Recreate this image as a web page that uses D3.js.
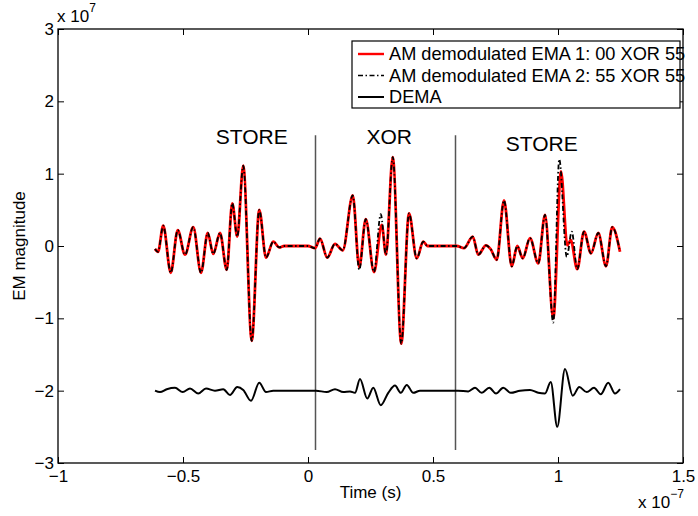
<!DOCTYPE html>
<html>
<head>
<meta charset="utf-8">
<script src="https://cdn.jsdelivr.net/npm/d3@7"></script>
<style>
  body { margin: 0; background: #fff; }
  svg text { font-family: "Liberation Sans", Arial, sans-serif; fill: #000; }
</style>
</head>
<body>
<script>
// time in units of 1e-7 s, magnitude in units of 1e7
const ema1 = [
  [-0.612,-0.04],[-0.600,-0.08],[-0.579,0.28],[-0.549,-0.37],[-0.521,0.22],[-0.492,-0.12],
  [-0.459,0.26],[-0.428,-0.37],[-0.401,0.18],[-0.379,-0.11],[-0.352,0.18],[-0.325,-0.33],
  [-0.303,0.59],[-0.283,0.13],[-0.259,1.11],[-0.225,-1.31],[-0.195,0.50],[-0.168,-0.16],
  [-0.139,0.06],[-0.115,-0.02],[-0.095,0.0],[0.0,0.0],[0.028,-0.03],[0.048,0.1],
  [0.077,-0.16],[0.108,0.03],[0.139,-0.06],[0.179,0.70],[0.205,-0.29],[0.231,0.37],
  [0.264,-0.36],[0.295,0.29],[0.312,-0.12],[0.339,1.23],[0.373,-1.35],[0.404,0.45],
  [0.435,-0.17],[0.461,0.06],[0.478,0.0],[0.595,0.0],[0.624,-0.03],[0.659,0.13],
  [0.681,-0.12],[0.712,0.01],[0.730,-0.04],[0.755,-0.19],[0.784,0.63],[0.815,-0.28],
  [0.837,0.0],[0.859,-0.17],[0.888,0.11],[0.921,-0.24],[0.948,0.43],[0.981,-1.0],
  [1.012,1.03],[1.037,0.01],[1.051,0.08],[1.077,-0.32],[1.104,0.2],[1.132,-0.1],
  [1.161,0.18],[1.192,-0.28],[1.217,0.26],[1.248,-0.08]
];
const ema2 = [
  [-0.612,-0.04],[-0.600,-0.08],[-0.579,0.28],[-0.549,-0.37],[-0.521,0.22],[-0.492,-0.12],
  [-0.459,0.26],[-0.428,-0.37],[-0.401,0.18],[-0.379,-0.11],[-0.352,0.18],[-0.325,-0.33],
  [-0.303,0.59],[-0.283,0.13],[-0.259,1.11],[-0.225,-1.31],[-0.195,0.50],[-0.168,-0.16],
  [-0.139,0.06],[-0.115,-0.02],[-0.095,0.0],[0.0,0.0],[0.028,-0.03],[0.048,0.1],
  [0.077,-0.16],[0.108,0.03],[0.139,-0.06],[0.179,0.70],[0.205,-0.33],[0.231,0.37],
  [0.264,-0.36],[0.291,0.44],[0.312,-0.12],[0.339,1.23],[0.373,-1.35],[0.404,0.45],
  [0.435,-0.17],[0.461,0.06],[0.478,0.0],[0.595,0.0],[0.624,-0.03],[0.659,0.13],
  [0.681,-0.12],[0.712,0.01],[0.730,-0.04],[0.755,-0.19],[0.784,0.63],[0.815,-0.28],
  [0.837,0.0],[0.859,-0.17],[0.888,0.11],[0.921,-0.24],[0.948,0.43],[0.981,-1.06],
  [1.005,1.20],[1.035,-0.15],[1.055,0.2],[1.077,-0.32],[1.104,0.2],[1.132,-0.1],
  [1.161,0.18],[1.192,-0.28],[1.217,0.26],[1.248,-0.08]
];
const dema = [
  [-0.612,-2.0],[-0.592,-2.02],[-0.565,-1.98],[-0.532,-1.96],[-0.501,-2.02],[-0.472,-1.97],
  [-0.439,-2.04],[-0.408,-1.97],[-0.372,-2.0],[-0.339,-1.98],[-0.312,-2.06],[-0.283,-1.95],
  [-0.259,-1.99],[-0.228,-2.14],[-0.195,-1.89],[-0.168,-2.02],[-0.139,-2.0],[0.032,-2.0],
  [0.075,-2.02],[0.108,-1.98],[0.141,-2.02],[0.168,-2.01],[0.188,-2.03],[0.208,-1.84],
  [0.237,-2.11],[0.261,-1.96],[0.291,-2.2],[0.321,-2.03],[0.348,-1.93],[0.371,-2.03],
  [0.395,-1.92],[0.421,-2.03],[0.448,-2.0],[0.600,-2.0],[0.641,-2.01],[0.668,-1.96],
  [0.695,-2.03],[0.725,-1.96],[0.752,-2.04],[0.781,-1.96],[0.811,-2.03],[0.848,-2.0],
  [0.888,-1.99],[0.921,-2.03],[0.948,-2.04],[0.971,-1.88],[0.997,-2.5],[1.028,-1.70],
  [1.059,-2.07],[1.085,-1.95],[1.115,-2.02],[1.144,-1.96],[1.171,-2.05],[1.201,-1.89],
  [1.228,-2.04],[1.248,-1.98]
];
const boundaries = [0.03, 0.59];
const phases = [
  {label: "STORE", t: -0.225, v: 1.41},
  {label: "XOR", t: 0.325, v: 1.41},
  {label: "STORE", t: 0.935, v: 1.31}
];
const xTicks = [-1, -0.5, 0, 0.5, 1, 1.5];
const yTicks = [-3, -2, -1, 0, 1, 2, 3];
const legendNames = ["AM demodulated EMA 1: 00 XOR 55", "AM demodulated EMA 2: 55 XOR 55", "DEMA"];

const W = 698, H = 516;
const m = {left: 58, right: 15, top: 29, bottom: 53};
const fs = 17;

const svg = d3.select("body").append("svg").attr("width", W).attr("height", H);

const x = d3.scaleLinear().domain([-1, 1.5]).range([m.left, W - m.right]);
const y = d3.scaleLinear().domain([-3, 3]).range([H - m.bottom, m.top]);
const fmt = d3.format("~g");

// axes, MATLAB style with inward ticks
svg.append("g").attr("transform", `translate(0,${y(-3)})`)
  .call(d3.axisBottom(x).tickValues(xTicks).tickSize(-6).tickPadding(7).tickFormat(fmt))
  .call(g => g.select(".domain").remove())
  .call(g => g.selectAll("text").attr("font-size", fs).attr("font-family", "Liberation Sans, Arial"));
svg.append("g").attr("transform", `translate(0,${y(3)})`)
  .call(d3.axisTop(x).tickValues(xTicks).tickSize(-6).tickFormat(""))
  .call(g => g.select(".domain").remove());
svg.append("g").attr("transform", `translate(${x(-1)},0)`)
  .call(d3.axisLeft(y).tickValues(yTicks).tickSize(-6).tickPadding(4).tickFormat(fmt))
  .call(g => g.select(".domain").remove())
  .call(g => g.selectAll("text").attr("font-size", fs).attr("font-family", "Liberation Sans, Arial"));
svg.append("g").attr("transform", `translate(${x(1.5)},0)`)
  .call(d3.axisRight(y).tickValues(yTicks).tickSize(-6).tickFormat(""))
  .call(g => g.select(".domain").remove());

svg.append("rect")
  .attr("x", x(-1)).attr("y", y(3))
  .attr("width", x(1.5) - x(-1)).attr("height", y(-3) - y(3))
  .attr("fill", "none").attr("stroke", "#000").attr("stroke-width", 1.3);

// exponent labels
const ex = svg.append("text").attr("x", 57).attr("y", 22).attr("font-size", fs);
ex.append("tspan").text("x 10");
ex.append("tspan").attr("dy", -10).attr("font-size", 12).text("7");
const ex2 = svg.append("text").attr("x", 638).attr("y", 508).attr("font-size", fs);
ex2.append("tspan").text("x 10");
ex2.append("tspan").attr("dy", -10).attr("font-size", 12).text("\u22127");

svg.append("text").attr("x", x(0.25)).attr("y", 498).attr("text-anchor", "middle")
  .attr("font-size", fs).text("Time (s)");
svg.append("text").attr("transform", `translate(25,${y(0)}) rotate(-90)`)
  .attr("text-anchor", "middle").attr("font-size", fs).text("EM magnitude");

// phase boundaries
svg.selectAll("line.bound").data(boundaries).join("line")
  .attr("class", "bound")
  .attr("x1", d => x(d)).attr("x2", d => x(d))
  .attr("y1", y(1.53)).attr("y2", y(-2.82))
  .attr("stroke", "#555").attr("stroke-width", 1.5);

svg.selectAll("text.phase").data(phases).join("text")
  .attr("class", "phase")
  .attr("x", d => x(d.t)).attr("y", d => y(d.v))
  .attr("text-anchor", "middle").attr("font-size", 21)
  .text(d => d.label);

const line = d3.line().x(d => x(d[0])).y(d => y(d[1])).curve(d3.curveMonotoneX);

svg.append("path").datum(dema).attr("d", line)
  .attr("fill", "none").attr("stroke", "#000").attr("stroke-width", 2);
svg.append("path").datum(ema1).attr("d", line)
  .attr("fill", "none").attr("stroke", "#f00").attr("stroke-width", 2.8);
svg.append("path").datum(ema2).attr("d", line)
  .attr("fill", "none").attr("stroke", "#000").attr("stroke-width", 1.8)
  .attr("stroke-dasharray", "5,2.5,1.5,2.5");

// legend
const lg = svg.append("g").attr("transform", "translate(352,41)");
lg.append("rect").attr("width", 328).attr("height", 67)
  .attr("fill", "#fff").attr("stroke", "#000").attr("stroke-width", 1.2);
const styles = [
  {stroke: "#f00", w: 2.4, dash: null},
  {stroke: "#000", w: 1.6, dash: "5,2.5,1.5,2.5"},
  {stroke: "#000", w: 2, dash: null}
];
legendNames.forEach((name, i) => {
  const yy = 13 + i * 21.5;
  lg.append("line").attr("x1", 6).attr("x2", 32).attr("y1", yy).attr("y2", yy)
    .attr("stroke", styles[i].stroke).attr("stroke-width", styles[i].w)
    .attr("stroke-dasharray", styles[i].dash);
  lg.append("text").attr("x", 37).attr("y", yy + 6).attr("font-size", 18.2).text(name);
});
</script>
</body>
</html>
